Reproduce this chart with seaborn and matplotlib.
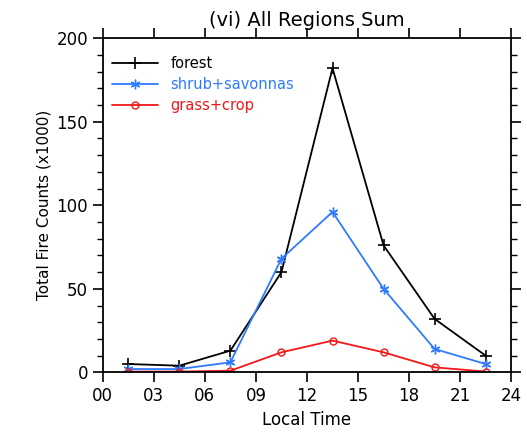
import numpy as np
import pandas as pd
import matplotlib
matplotlib.use('Agg')
import matplotlib.pyplot as plt
import seaborn as sns
from matplotlib.ticker import MultipleLocator

hours = [1.5, 4.5, 7.5, 10.5, 13.5, 16.5, 19.5, 22.5]
forest = [5, 4, 13, 60, 182, 76, 32, 10]
shrub = [2, 2, 6, 68, 96, 50, 14, 5]
grass = [0.5, 0.5, 1, 12, 19, 12, 3, 0.5]
xtick_labels = ['00', '03', '06', '09', '12', '15', '18', '21', '24']

sns.set_style('white')
plt.rcParams['font.family'] = ['DejaVu Sans']
plt.rcParams['text.color'] = 'black'
plt.rcParams['axes.labelcolor'] = 'black'
plt.rcParams['xtick.color'] = 'black'
plt.rcParams['ytick.color'] = 'black'

fig, ax = plt.subplots(figsize=(5.27, 4.33), dpi=100)
fig.subplots_adjust(left=0.195, right=0.97, top=0.912, bottom=0.14)

series = [
    ('forest', forest, 'black', '+', dict(markersize=9, markeredgewidth=1.2)),
    ('shrub+savonnas', shrub, '#2f7bff', (6, 2, 0), dict(markersize=7, markeredgewidth=1.0)),
    ('grass+crop', grass, '#f01818', 'o', dict(markersize=5, markerfacecolor='none', markeredgewidth=1.0)),
]
for name, vals, color, marker, kw in series:
    df = pd.DataFrame({'hour': hours, 'count': vals})
    sns.lineplot(data=df, x='hour', y='count', ax=ax, color=color, marker=marker,
                 label=name, linewidth=1.3, markeredgecolor=color, **kw)

ax.set_xlim(0, 24)
ax.set_ylim(0, 200)
ax.set_xticks(np.arange(0, 25, 3))
ax.set_xticklabels(xtick_labels)
ax.yaxis.set_major_locator(MultipleLocator(50))
ax.yaxis.set_minor_locator(MultipleLocator(10))
ax.tick_params(axis='both', which='major', direction='out', length=7, width=1.2,
               labelsize=12, top=True, right=True, bottom=True, left=True)
ax.tick_params(axis='y', which='minor', direction='out', length=4, width=1.0,
               left=True, right=True)
for s in ax.spines.values():
    s.set_linewidth(1.3)
    s.set_color('black')

ax.set_xlabel('Local Time', fontsize=12)
ax.set_ylabel('Total Fire Counts (x1000)', fontsize=11)
ax.set_title('(vi) All Regions Sum', fontsize=14, pad=9, color='black')

leg = ax.legend(loc='upper left', bbox_to_anchor=(-0.01, 0.985), frameon=False,
                fontsize=10.5, handlelength=3.2, labelspacing=0.4)
for text, (_, _, color, _, _) in zip(leg.get_texts(), series):
    text.set_color(color)

fig.savefig('out.png', dpi=100)
